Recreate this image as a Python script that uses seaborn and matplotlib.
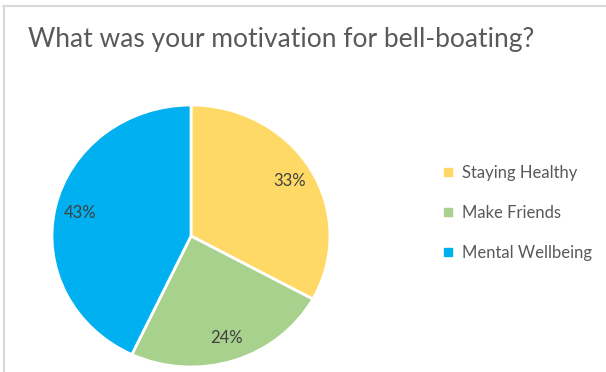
import matplotlib
matplotlib.use("Agg")
import matplotlib.pyplot as plt
import seaborn as sns
from matplotlib.lines import Line2D

categories = ["Staying Healthy", "Make Friends", "Mental Wellbeing"]
values = [33, 24, 43]
colors = ["#FFD966", "#A9D18E", "#00B0F0"]
title = "What was your motivation for bell-boating?"

sns.set_theme(style="white")
plt.rcParams["font.family"] = ["Lato", "DejaVu Sans"]

W, H = 606, 372
fig = plt.figure(figsize=(W / 100, H / 100), dpi=100)
fig.patch.set_facecolor("white")

# pie axes (slightly oval as in reference)
l, r, t, b = 52, 330, 105, 367
ax = fig.add_axes([l / W, 1 - b / H, (r - l) / W, (b - t) / H])
wedges, texts, autotexts = ax.pie(
    values, colors=colors, startangle=90, counterclock=False,
    autopct="%1.0f%%", pctdistance=0.82,
    wedgeprops=dict(edgecolor="white", linewidth=2),
    textprops=dict(color="#404040", fontsize=12),
)
ax.set_aspect("auto")
ax.set_xlim(-1, 1)
ax.set_ylim(-1, 1)
ax.axis("off")
for w in wedges:
    w.set_clip_on(False)

# title
fig.text(28 / W, 1 - 47 / H, title, fontsize=19, color="#595959",
         ha="left", va="baseline")

# legend
handles = [Line2D([], [], marker="s", linestyle="none", markersize=6,
                  markerfacecolor=c, markeredgecolor=c) for c in colors]
fig.legend(handles, categories, loc="center left",
           bbox_to_anchor=(435 / W, 1 - 213 / H), frameon=False,
           fontsize=12, labelcolor="#595959", handlelength=0.6,
           handletextpad=0.5, labelspacing=1.45, borderpad=0)

# frame lines
fig.add_artist(Line2D([3 / W, 1], [1 - 6 / H, 1 - 6 / H], color="#d9d9d9",
                      linewidth=1.5, transform=fig.transFigure))
fig.add_artist(Line2D([3.5 / W, 3.5 / W], [0, 1 - 6 / H], color="#d9d9d9",
                      linewidth=1.5, transform=fig.transFigure))

fig.savefig("out.png", dpi=100, facecolor="white")
